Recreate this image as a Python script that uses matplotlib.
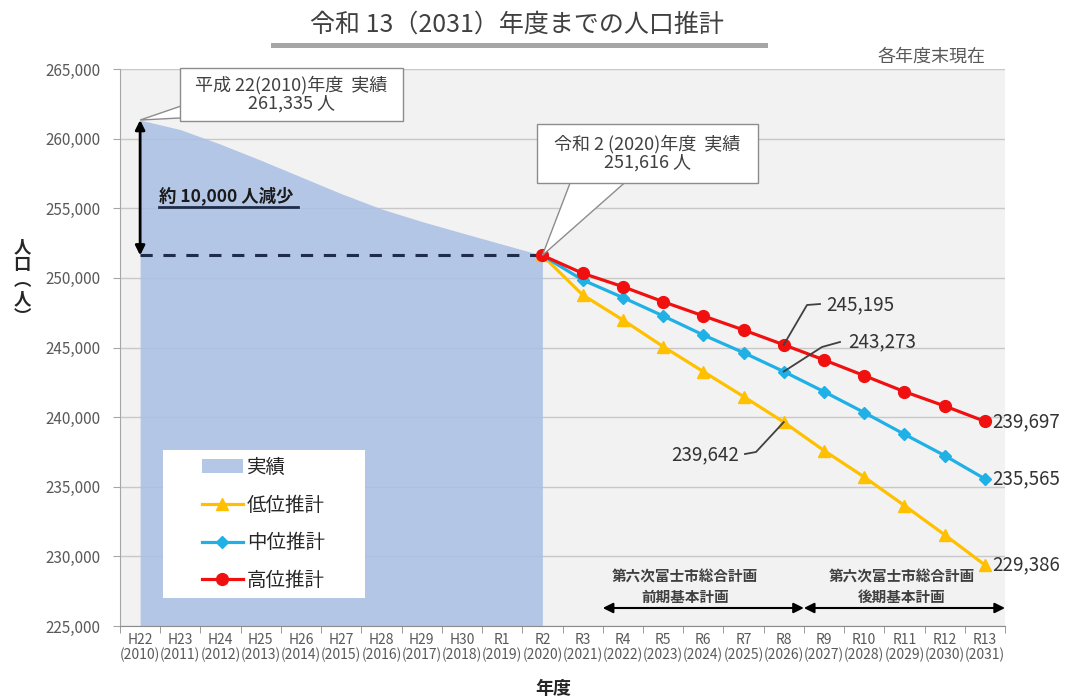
import matplotlib
matplotlib.use("Agg")
import matplotlib.pyplot as plt
from matplotlib.patches import Polygon, Rectangle, Patch
from matplotlib.lines import Line2D

plt.rcParams["font.family"] = ["Noto Sans CJK JP", "DejaVu Sans"]

# data
year_labels = [
    "H22\n(2010)", "H23\n(2011)", "H24\n(2012)", "H25\n(2013)", "H26\n(2014)",
    "H27\n(2015)", "H28\n(2016)", "H29\n(2017)", "H30\n(2018)", "R1\n(2019)",
    "R2\n(2020)", "R3\n(2021)", "R4\n(2022)", "R5\n(2023)", "R6\n(2024)",
    "R7\n(2025)", "R8\n(2026)", "R9\n(2027)", "R10\n(2028)", "R11\n(2029)",
    "R12\n(2030)", "R13\n(2031)",
]
actual = [261335, 260650, 259600, 258450, 257250, 256050, 254950, 254050,
          253230, 252420, 251616]
low = [251616, 248780, 246980, 245070, 243270, 241480, 239642, 237600,
       235700, 233650, 231550, 229386]
mid = [251616, 249850, 248590, 247270, 245900, 244630, 243273, 241830,
       240330, 238770, 237240, 235565]
high = [251616, 250330, 249370, 248290, 247270, 246260, 245195, 244110,
        242980, 241830, 240800, 239697]

x_act = list(range(len(actual)))
x_proj = list(range(len(actual) - 1, len(year_labels)))

W, H = 1066, 699
fig = plt.figure(figsize=(W / 100, H / 100), dpi=100)
ax = fig.add_axes([120 / W, 1 - 626 / H, 885 / W, 557 / H])
ax.set_facecolor("#f2f2f2")
ax.set_xlim(-0.5, len(year_labels) - 0.5)
ax.set_ylim(225000, 265000)


def px(x, y):
    # reference pixel -> data coords
    return ax.transData.inverted().transform((x, H - y))


# grid and axes
ax.set_yticks(range(225000, 265001, 5000))
ax.yaxis.set_major_formatter(matplotlib.ticker.StrMethodFormatter("{x:,.0f}"))
ax.grid(axis="y", color="#c8c8c8", lw=1, zorder=0)
ax.set_axisbelow(True)
ax.set_xticks(range(len(year_labels)), year_labels)
ax.set_xticks([i - 0.5 for i in range(len(year_labels) + 1)], minor=True)
ax.tick_params(axis="x", which="major", length=0, pad=5, labelsize=10,
               labelcolor="#595959")
ax.tick_params(axis="x", which="minor", length=5, color="#8c8c8c")
ax.tick_params(axis="y", length=5, color="#a6a6a6", pad=9, labelsize=11,
               labelcolor="#595959")
for lab in ax.get_xticklabels():
    lab.set_linespacing(1.1)
for s in ["top", "right"]:
    ax.spines[s].set_visible(False)
ax.spines["left"].set_color("#a6a6a6")
ax.spines["bottom"].set_color("#8c8c8c")

# actual area
ax.fill_between(x_act, actual, 225000, color="#a9bfe5", alpha=0.85, lw=0,
                zorder=1)

# projections
ax.plot(x_proj, low, color="#ffc000", lw=2.3, marker="^", ms=8, zorder=3)
ax.plot(x_proj, mid, color="#1fb0e6", lw=2.3, marker="D", ms=6, zorder=4)
ax.plot(x_proj, high, color="#f01010", lw=2.3, marker="o", ms=8.5, zorder=5)

# decrease arrow and dashed line
ax.annotate("", xy=(0, actual[0]), xytext=(0, actual[-1]),
            arrowprops=dict(arrowstyle="<|-|>", color="black", lw=2,
                            mutation_scale=14, shrinkA=0, shrinkB=0),
            zorder=6)
ax.plot([0, x_act[-1]], [actual[-1], actual[-1]], ls=(0, (4, 3.5)),
        color="#1f2d4a", lw=2.2, zorder=2)
tx, ty = px(159, 196)
ax.text(tx, ty, "約 10,000 人減少", fontsize=12.5, fontweight="bold",
        color="#1a1a1a", va="center", ha="left", zorder=6)
u0, u1 = px(159, 207), px(298, 207)
ax.plot([u0[0], u1[0]], [u0[1], u1[1]], color="#1f2d4a", lw=2, zorder=6)


def callout(box, base, tip, text):
    (x0, y0), (x1, y1) = px(*box[:2]), px(*box[2:])
    rect = Rectangle((x0, y1), x1 - x0, y0 - y1, facecolor="white",
                     edgecolor="#8c8c8c", lw=1, zorder=8, clip_on=False)
    ax.add_patch(rect)
    pts = [tip, px(*base[0]), px(*base[1])]
    ax.add_patch(Polygon(pts, closed=True, facecolor="white",
                         edgecolor="#8c8c8c", lw=1, zorder=7, clip_on=False))
    ax.text((x0 + x1) / 2, (y0 + y1) / 2, text, ha="center", va="center",
            fontsize=13, color="#404040", linespacing=1.0, zorder=9)


callout((180, 68, 403, 121), [(187, 104), (199, 117)], (0, actual[0]),
        "平成 22(2010)年度  実績\n261,335 人")
callout((537, 124, 758, 183), [(572, 178), (630, 178)],
        (x_act[-1], actual[-1]), "令和 2 (2020)年度  実績\n251,616 人")

# value labels with leaders
i8 = 6  # R8 within projection lists
lc = "#404040"
a, b = px(807, 305), px(820, 304)
ax.plot([x_proj[i8], a[0], b[0]], [high[i8], a[1], b[1]], color=lc, lw=1.3,
        zorder=6)
t = px(826, 305)
ax.text(t[0], t[1], f"{high[i8]:,}", fontsize=13.5, color="#333333",
        va="center", zorder=6)
a, b = px(822, 347), px(840, 342)
ax.plot([x_proj[i8], a[0], b[0]], [mid[i8], a[1], b[1]], color=lc, lw=1.3,
        zorder=6)
t = px(848, 342)
ax.text(t[0], t[1], f"{mid[i8]:,}", fontsize=13.5, color="#333333",
        va="center", zorder=6)
a, b = px(756, 452), px(745, 454)
ax.plot([x_proj[i8], a[0], b[0]], [low[i8], a[1], b[1]], color=lc, lw=1.3,
        zorder=6)
t = px(739, 455)
ax.text(t[0], t[1], f"{low[i8]:,}", fontsize=13.5, color="#333333",
        va="center", ha="right", zorder=6)
for series in (high, mid, low):
    t = px(992, 0)
    ax.text(t[0], series[-1], f"{series[-1]:,}", fontsize=13.5,
            color="#333333", va="center", ha="left", clip_on=False)

# plan periods
ya = px(0, 608)[1]
for xa, xb in [(11.5, 16.5), (16.5, 21.5)]:
    ax.annotate("", xy=(xa, ya), xytext=(xb, ya), annotation_clip=False,
                arrowprops=dict(arrowstyle="<|-|>", color="black", lw=1.5,
                                mutation_scale=15, shrinkA=0, shrinkB=0))
for cx, txt in [(685, "第六次富士市総合計画\n前期基本計画"),
                (902, "第六次富士市総合計画\n後期基本計画")]:
    p = px(cx, 587)
    ax.text(p[0], p[1], txt, ha="center", va="center", fontsize=10.5,
            fontweight="bold", color="#404040", linespacing=1.35)

# legend
l0, l1 = px(163, 450), px(365, 598)
ax.add_patch(Rectangle((l0[0], l1[1]), l1[0] - l0[0], l0[1] - l1[1],
                       facecolor="white", edgecolor="none", zorder=10))
handles = [
    Patch(facecolor="#b4c7e7", edgecolor="none", label="実績"),
    Line2D([], [], color="#ffc000", lw=2.3, marker="^", ms=8, label="低位推計"),
    Line2D([], [], color="#1fb0e6", lw=2.3, marker="D", ms=6, label="中位推計"),
    Line2D([], [], color="#f01010", lw=2.3, marker="o", ms=8.5, label="高位推計"),
]
leg = ax.legend(handles=handles, loc="upper left",
                bbox_to_anchor=(202 / W, 1 - 457 / H),
                bbox_transform=fig.transFigure, frameon=False, fontsize=14,
                borderpad=0, borderaxespad=0, handlelength=2.1,
                handletextpad=0.2, labelspacing=0.86)
leg.set_zorder(11)
for txt in leg.get_texts():
    txt.set_color("#262626")

# titles and axis labels
fig.text(517 / W, 1 - 25 / H, "令和 13（2031）年度までの人口推計",
         ha="center", va="center", fontsize=18, color="#404040")
fig.add_artist(Line2D([273 / W, 765 / W], [1 - 44.5 / H] * 2, lw=3.6,
                      color="#a6a6a6"))
fig.text(985 / W, 1 - 57 / H, "各年度末現在", ha="right", va="center",
         fontsize=13, color="#595959")
fig.text(22 / W, 1 - 282 / H, "人\n口\n︵\n人\n︶", ha="center",
         va="center", fontsize=12.5, fontweight="bold", color="#262626",
         linespacing=0.95)
fig.text(553 / W, 1 - 688 / H, "年度", ha="center", va="center",
         fontsize=13, fontweight="bold", color="#262626")

fig.savefig("out.png", dpi=100)
